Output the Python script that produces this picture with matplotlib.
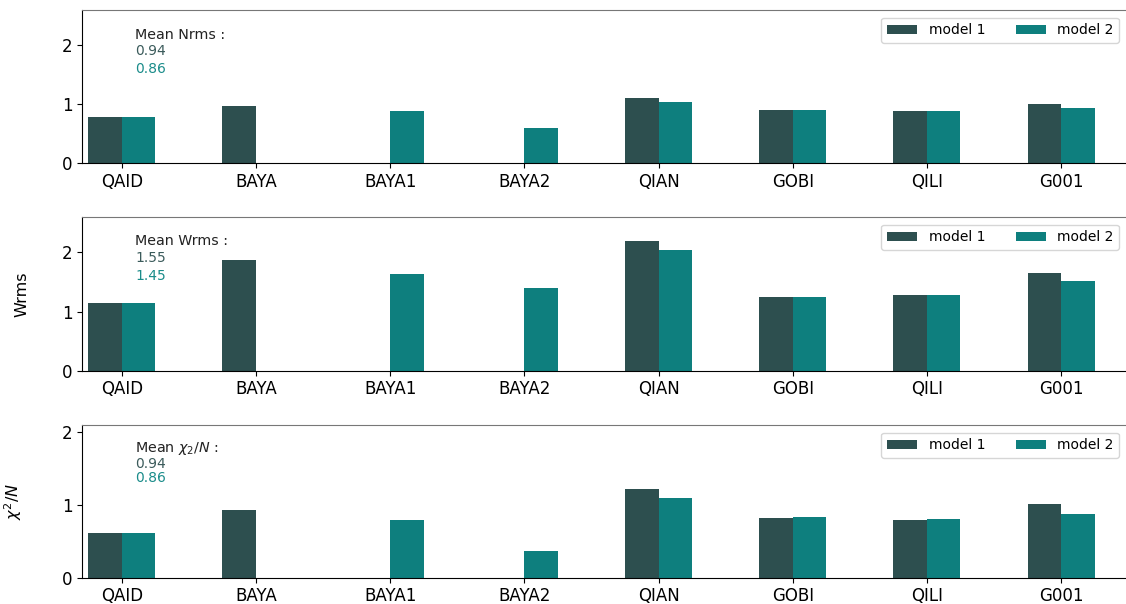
import matplotlib
matplotlib.use("Agg")
import matplotlib.pyplot as plt
import numpy as np

stations = ["QAID", "BAYA", "BAYA1", "BAYA2", "QIAN", "GOBI", "QILI", "G001"]

# nan = no bar for that station
nrms_m1 = [0.79, 0.97, np.nan, np.nan, 1.11, 0.91, 0.88, 1.01]
nrms_m2 = [0.79, np.nan, 0.88, 0.60, 1.04, 0.91, 0.88, 0.93]
wrms_m1 = [1.14, 1.87, np.nan, np.nan, 2.19, 1.25, 1.28, 1.65]
wrms_m2 = [1.14, np.nan, 1.63, 1.40, 2.05, 1.25, 1.28, 1.52]
chi2_m1 = [0.62, 0.93, np.nan, np.nan, 1.22, 0.82, 0.80, 1.02]
chi2_m2 = [0.61, np.nan, 0.80, 0.37, 1.09, 0.83, 0.81, 0.87]

mean_labels = ["Mean Nrms :", "Mean Wrms :", r"Mean $\chi_2/N$ :"]
mean_m1 = ["0.94", "1.55", "0.94"]
mean_m2 = ["0.86", "1.45", "0.86"]
ylabels = ["", "Wrms", r"$\chi^2/N$"]

c1 = "#2d4f4f"
c2 = "#0e7f7e"

W, H = 1126, 604
fig = plt.figure(figsize=(W / 100, H / 100), dpi=100)

# (top px, bottom px) of each panel
boxes = [(10, 163.3), (217, 370.7), (425, 577.7)]
ylims = [2.6, 2.6, 2.1]
# y of text lines (data units)
text_y = [(2.18, 1.9, 1.6), (2.2, 1.9, 1.6), (1.78, 1.57, 1.37)]
label_x = [-0.05, -0.05, -0.055]

data = [(nrms_m1, nrms_m2), (wrms_m1, wrms_m2), (chi2_m1, chi2_m2)]
x = np.arange(len(stations))
w = 0.25

for i, (top, bot) in enumerate(boxes):
    ax = fig.add_axes([82 / W, 1 - bot / H, 1 - 82 / W + 0.002, (bot - top) / H])
    m1, m2 = data[i]
    ax.bar(x - w / 2, m1, w, color=c1, linewidth=0, label="model 1")
    ax.bar(x + w / 2, m2, w, color=c2, linewidth=0, label="model 2")
    ax.set_xlim(-0.296, 7.5)
    ax.set_ylim(0, ylims[i])
    ax.set_xticks(x)
    ax.set_xticklabels(stations, fontsize=12)
    ax.tick_params(axis="y", labelsize=12)
    ax.spines["right"].set_visible(False)
    ax.spines["top"].set_color("#777777")
    if ylabels[i]:
        ax.set_ylabel(ylabels[i], fontsize=11.5)
        ax.yaxis.set_label_coords(label_x[i], 0.5)
    ax.legend(loc="upper right", ncol=2, fontsize=10, frameon=True,
              bbox_to_anchor=(0.998, 0.995), columnspacing=2.2, handlelength=2.2)
    ty = text_y[i]
    ax.text(0.1, ty[0], mean_labels[i], fontsize=10.3, color="#222222", va="center")
    ax.text(0.1, ty[1], mean_m1[i], fontsize=10, color="#3b5b5b", va="center")
    ax.text(0.1, ty[2], mean_m2[i], fontsize=10, color="#1a8c8a", va="center")

fig.savefig("out.png", dpi=100)
